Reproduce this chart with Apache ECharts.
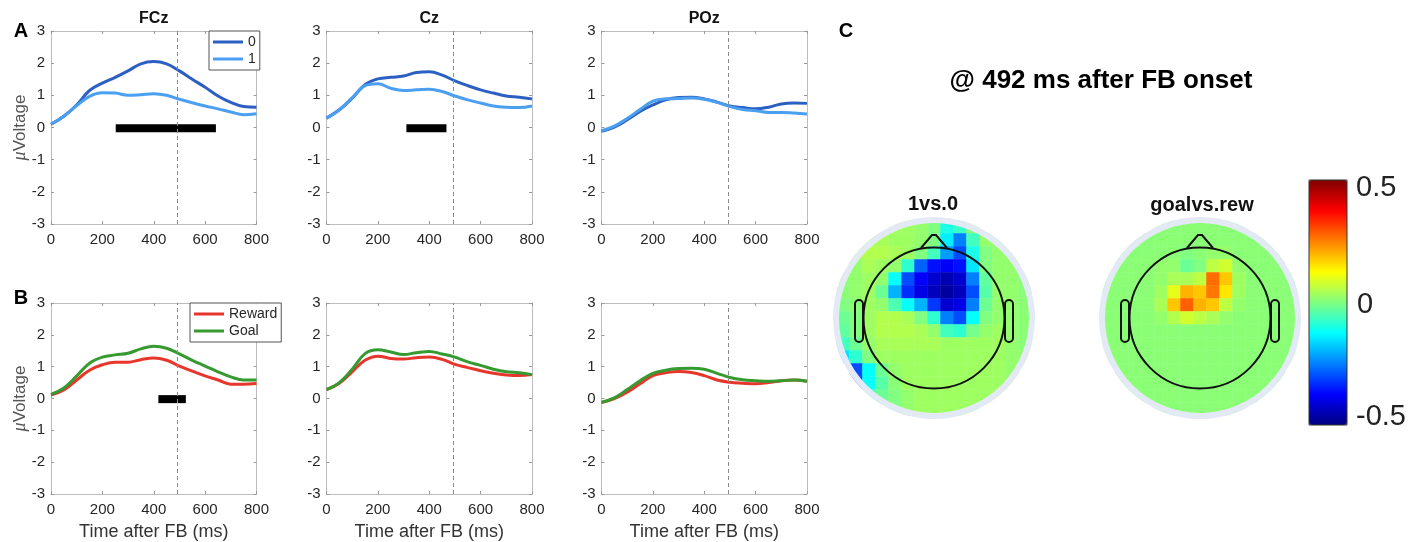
<!DOCTYPE html>
<html><head><meta charset="utf-8">
<script src="https://cdn.jsdelivr.net/npm/echarts@6/dist/echarts.min.js"></script>
<style>html,body{margin:0;padding:0;background:#fff}#c{width:1416px;height:542px}</style>
</head><body><div id="c"></div>
<script>
// ---------- data ----------
const times = [0,50,100,150,200,250,300,350,400,450,500,550,600,650,700,750,800];
const chanNames = ['FCz','Cz','POz'];
const condA = ['0','1'];
const condB = ['Reward','Goal'];
// Panel A (condition 0 / 1)
const a0_FCz = [0.10,0.35,0.70,1.15,1.38,1.56,1.76,1.98,2.05,1.98,1.76,1.50,1.25,0.98,0.78,0.65,0.63];
const a1_FCz = [0.10,0.35,0.68,0.97,1.08,1.07,1.00,1.02,1.05,1.00,0.88,0.77,0.67,0.58,0.48,0.40,0.43];
const a0_Cz  = [0.29,0.55,0.91,1.33,1.51,1.56,1.60,1.71,1.73,1.63,1.45,1.30,1.17,1.07,0.98,0.94,0.89];
const a1_Cz  = [0.29,0.55,0.92,1.30,1.36,1.22,1.15,1.17,1.19,1.12,0.98,0.86,0.76,0.67,0.63,0.62,0.67];
const a0_POz = [-0.12,0.01,0.24,0.50,0.70,0.86,0.93,0.94,0.89,0.79,0.67,0.62,0.58,0.63,0.73,0.76,0.75];
const a1_POz = [-0.10,0.04,0.28,0.56,0.82,0.89,0.90,0.92,0.88,0.78,0.65,0.56,0.52,0.47,0.47,0.45,0.42];
// Panel B (Reward / Goal)
const bR_FCz = [0.11,0.27,0.58,0.89,1.06,1.14,1.14,1.22,1.27,1.20,1.02,0.86,0.71,0.58,0.45,0.45,0.47];
const bG_FCz = [0.13,0.33,0.71,1.11,1.30,1.37,1.42,1.56,1.64,1.58,1.40,1.20,1.02,0.84,0.68,0.58,0.58];
const bR_Cz  = [0.28,0.48,0.84,1.20,1.33,1.26,1.24,1.28,1.30,1.23,1.07,0.97,0.87,0.79,0.74,0.72,0.75];
const bG_Cz  = [0.28,0.50,0.92,1.41,1.53,1.46,1.38,1.44,1.48,1.40,1.30,1.15,1.04,0.92,0.84,0.81,0.75];
const bR_POz = [-0.13,0.00,0.20,0.46,0.72,0.81,0.85,0.82,0.72,0.58,0.51,0.48,0.46,0.50,0.56,0.58,0.54];
const bG_POz = [-0.12,0.02,0.28,0.56,0.79,0.89,0.94,0.95,0.92,0.79,0.66,0.59,0.56,0.54,0.56,0.58,0.54];
// significance bars [start, end] in ms
const sigA = [[252,642],[311,467],null];
const sigB = [[418,525],null,null];
const sigLevel = -0.02;
const fbMarker = 492;
const xMin = 0, xMax = 800, xStep = 200;
const yMin = -3, yMax = 3, yStep = 1;
// topographies (rows front->back, columns left->right), null = outside scalp disk
const _ = null;
const topo1 = [
 [_,_,_,_,0.03,0.03,0.02,0.00,-0.10,-0.07,0.00,_,_,_,_],
 [_,_,0.04,0.04,0.03,0.03,0.02,0.00,-0.14,-0.25,-0.06,0.02,0.02,_,_],
 [_,0.03,0.05,0.05,0.04,0.03,0.00,-0.06,-0.22,-0.30,-0.10,0.00,0.02,0.02,_],
 [_,0.02,0.04,0.03,0.02,-0.08,-0.28,-0.36,-0.38,-0.36,-0.15,0.00,0.02,0.02,_],
 [0.01,0.02,0.03,0.02,-0.12,-0.30,-0.38,-0.42,-0.45,-0.42,-0.25,-0.03,0.02,0.02,0.01],
 [0.01,0.02,0.03,-0.02,-0.20,-0.33,-0.40,-0.44,-0.47,-0.44,-0.30,-0.04,0.02,0.02,0.01],
 [0.00,0.01,0.03,0.02,-0.05,-0.12,-0.20,-0.32,-0.42,-0.40,-0.25,-0.02,0.02,0.02,0.01],
 [-0.02,0.00,0.03,0.05,0.05,0.04,0.00,-0.08,-0.25,-0.30,-0.12,0.00,0.02,0.02,0.01],
 [-0.03,0.00,0.03,0.05,0.05,0.05,0.04,0.02,-0.06,-0.08,-0.01,0.02,0.03,0.02,0.01],
 [-0.06,-0.02,0.02,0.04,0.04,0.04,0.04,0.04,0.03,0.03,0.03,0.03,0.03,0.02,0.01],
 [-0.15,-0.08,0.00,0.03,0.03,0.03,0.03,0.03,0.03,0.03,0.03,0.03,0.03,0.02,0.02],
 [_,-0.30,-0.12,-0.02,0.02,0.03,0.03,0.03,0.03,0.03,0.03,0.03,0.03,0.02,_],
 [_,-0.30,-0.12,-0.04,0.01,0.03,0.03,0.03,0.03,0.03,0.03,0.03,0.03,0.02,_],
 [_,_,-0.06,-0.02,0.00,0.02,0.03,0.03,0.03,0.03,0.03,0.03,0.03,_,_],
 [_,_,_,_,0.00,0.02,0.03,0.03,0.03,0.03,0.03,_,_,_,_]
];
const topo2 = [
 [_,_,_,_,0.01,0.01,0.01,0.01,0.01,0.01,0.01,_,_,_,_],
 [_,_,0.01,0.01,0.01,0.01,0.01,0.01,0.01,0.01,0.01,0.01,0.01,_,_],
 [_,0.01,0.01,0.01,0.01,0.01,0.00,0.01,0.02,0.02,0.01,0.01,0.01,0.01,_],
 [_,0.01,0.01,0.01,0.02,0.02,-0.02,0.00,0.06,0.08,0.02,0.01,0.01,0.01,_],
 [0.01,0.01,0.01,0.01,0.02,0.04,0.04,0.06,0.27,0.18,0.03,0.01,0.01,0.01,0.01],
 [0.01,0.01,0.01,0.01,0.03,0.10,0.20,0.18,0.26,0.15,0.03,0.01,0.01,0.01,0.01],
 [0.01,0.01,0.01,0.01,0.04,0.18,0.28,0.20,0.18,0.06,0.02,0.01,0.01,0.01,0.01],
 [0.01,0.01,0.01,0.01,0.02,0.05,0.08,0.06,0.04,0.02,0.01,0.01,0.01,0.01,0.01],
 [0.01,0.01,0.01,0.01,0.01,0.01,0.01,0.01,0.01,0.01,0.01,0.01,0.01,0.01,0.01],
 [0.01,0.01,0.01,0.01,0.01,0.01,0.01,0.01,0.01,0.01,0.01,0.01,0.01,0.01,0.01],
 [0.01,0.01,0.01,0.01,0.01,0.01,0.01,0.01,0.01,0.01,0.01,0.01,0.01,0.01,0.01],
 [_,0.01,0.01,0.01,0.01,0.01,0.01,0.01,0.01,0.01,0.01,0.01,0.01,0.01,_],
 [_,0.01,0.01,0.01,0.01,0.01,0.01,0.01,0.01,0.01,0.01,0.01,0.01,0.01,_],
 [_,_,0.01,0.01,0.01,0.01,0.01,0.01,0.01,0.01,0.01,0.01,0.01,_,_],
 [_,_,_,_,0.01,0.01,0.01,0.01,0.01,0.01,0.01,_,_,_,_]
];
const topoTitles = ['1vs.0','goalvs.rew'];
const cbMin = -0.5, cbMax = 0.5;
const cbLabels = ['0.5','0','-0.5'];
const mainTitle = '@ 492 ms after FB onset';

// ---------- layout / style ----------
const FONT = '"Liberation Sans", Arial, Helvetica, sans-serif';
const colLeft = [51, 326.5, 601.5];
const rowTop = [31, 303];
const plotW = 205.5;
const plotH = [193, 194];
const colorsA = ['#2b5fc1', '#4a9ff0'];
const colorsB = ['#e7362c', '#369a30'];
const panelSeries = [
  [[a0_FCz,a1_FCz],[a0_Cz,a1_Cz],[a0_POz,a1_POz]],
  [[bR_FCz,bG_FCz],[bR_Cz,bG_Cz],[bR_POz,bG_POz]]
];
const panelNames = [condA, condB];
const panelColors = [colorsA, colorsB];
const panelSig = [sigA, sigB];

const grids = [], xAxes = [], yAxes = [], series = [];
const axisLineStyle = {show:true, onZero:false, lineStyle:{color:'#bdbdbd', width:1}};
const axisTickStyle = {show:true, inside:true, length:3, lineStyle:{color:'#9a9a9a'}};

for (let r = 0; r < 2; r++) {
  for (let c = 0; c < 3; c++) {
    const g = r*3 + c;
    grids.push({left: colLeft[c], top: rowTop[r], width: plotW, height: plotH[r]});
    const xb = {type:'value', gridIndex:g, position:'bottom', min:xMin, max:xMax, interval:xStep,
      axisLine:axisLineStyle, axisTick:axisTickStyle, splitLine:{show:false},
      axisLabel:{show:true, color:'#262626', fontSize:15, margin:8, fontFamily:FONT}};
    if (r === 1) {
      xb.name = 'Time after FB (ms)'; xb.nameLocation = 'middle'; xb.nameGap = 29; xb.nameMoveOverlap = false;
      xb.nameTextStyle = {fontSize:18, color:'#333', fontFamily:FONT};
    }
    xAxes.push(xb);
    xAxes.push({type:'value', gridIndex:g, position:'top', min:xMin, max:xMax, interval:xStep,
      axisLine:axisLineStyle, axisTick:axisTickStyle, splitLine:{show:false}, axisLabel:{show:false}});
    const yl = {type:'value', gridIndex:g, position:'left', min:yMin, max:yMax, interval:yStep,
      axisLine:axisLineStyle, axisTick:axisTickStyle, splitLine:{show:false},
      axisLabel:{show:true, color:'#262626', fontSize:15, margin:6, fontFamily:FONT}};
    if (c === 0) {
      yl.name = '{mu|\u03bc}Voltage'; yl.nameLocation = 'middle'; yl.nameGap = 22; yl.nameRotate = 90;
      yl.nameMoveOverlap = false;
      yl.nameTextStyle = {fontSize:17, color:'#555', fontFamily:FONT,
        rich:{mu:{fontStyle:'italic', fontSize:18, color:'#555', fontFamily:'"Liberation Serif", serif'}}};
    }
    yAxes.push(yl);
    yAxes.push({type:'value', gridIndex:g, position:'right', min:yMin, max:yMax, interval:yStep,
      axisLine:axisLineStyle, axisTick:axisTickStyle, splitLine:{show:false}, axisLabel:{show:false}});

    const sig = panelSig[r][c];
    if (sig) {
      series.push({type:'line', name:'sig', xAxisIndex:2*g, yAxisIndex:2*g, data:[[sig[0],sigLevel],[sig[1],sigLevel]],
        symbol:'none', lineStyle:{color:'#000', width:8, cap:'butt'}, silent:true, z:2});
    }
    for (let s = 0; s < 2; s++) {
      const vals = panelSeries[r][c][s];
      const ser = {type:'line', name: panelNames[r][s], xAxisIndex:2*g, yAxisIndex:2*g,
        data: times.map((t,i)=>[t, vals[i]]), smooth:0.4, symbol:'none', showSymbol:false,
        lineStyle:{color: panelColors[r][s], width:3}, itemStyle:{color: panelColors[r][s]}, z:3};
      if (s === 0) {
        ser.markLine = {silent:true, symbol:['none','none'], label:{show:false},
          lineStyle:{type:[4,3], color:'#8c8c8c', width:1}, data:[{xAxis: fbMarker}], animation:false};
      }
      series.push(ser);
    }
  }
}

// topography heatmaps
const topoCenters = [[934,318],[1200,318]];
const topoSize = 195;
const topoData = [topo1, topo2];
const hmIdx = [];
for (let m = 0; m < 2; m++) {
  const g = grids.length;
  grids.push({left: topoCenters[m][0]-topoSize/2, top: topoCenters[m][1]-topoSize/2, width: topoSize, height: topoSize});
  const cats = topoData[m][0].map((v,i)=>String(i));
  xAxes.push({type:'category', gridIndex:g, data:cats, show:false});
  yAxes.push({type:'category', gridIndex:g, data:topoData[m].map((v,i)=>String(i)), show:false, inverse:true});
  const d = [];
  topoData[m].forEach((row,k)=>row.forEach((v,j)=>{ if (v !== null) d.push([j,k,v]); }));
  hmIdx.push(series.length);
  series.push({type:'heatmap', xAxisIndex:xAxes.length-1, yAxisIndex:yAxes.length-1, data:d, silent:true,
    itemStyle:{borderWidth:0}, z:1, progressive:0});
}

const jet = ['#000080','#0000ff','#0080ff','#00ffff','#80ff80','#ffff00','#ff8000','#ff0000','#800000'];

// graphic decorations
const gfx = [];
function txt(text, x, y, font, fill, align) {
  gfx.push({type:'text', z:50, style:{text, x, y, font, fill: fill||'#111',
    textAlign: align||'center', align: align||'center', textVerticalAlign:'middle', verticalAlign:'middle'}});
}
topoCenters.forEach(([cx,cy])=>{
  gfx.push({type:'circle', z:6, silent:true, shape:{cx, cy, r:107.5}, style:{fill:'none', stroke:'#fff', lineWidth:13}});
  gfx.push({type:'circle', z:7, silent:true, shape:{cx, cy, r:98}, style:{fill:'none', stroke:'#e4e9f6', lineWidth:6}});
  gfx.push({type:'circle', z:8, silent:true, shape:{cx, cy, r:70.5}, style:{fill:'none', stroke:'#111', lineWidth:2}});
  gfx.push({type:'polyline', z:8, silent:true, shape:{points:[[cx-13,cy-70],[cx-2,cy-83],[cx+2,cy-83],[cx+13,cy-70]]}, style:{fill:'none', stroke:'#111', lineWidth:2}});
  gfx.push({type:'rect', z:8, silent:true, shape:{x:cx-79, y:cy-18, width:8, height:42, r:4}, style:{fill:'none', stroke:'#111', lineWidth:2}});
  gfx.push({type:'rect', z:8, silent:true, shape:{x:cx+71, y:cy-18, width:8, height:42, r:4}, style:{fill:'none', stroke:'#111', lineWidth:2}});
});
// panel titles
chanNames.forEach((n,c)=> txt(n, colLeft[c]+plotW/2, 19, 'bold 16px '+FONT, '#111'));
txt('A', 21, 31, 'bold 20px '+FONT, '#000');
txt('B', 21, 298, 'bold 20px '+FONT, '#000');
txt('C', 846, 31, 'bold 20px '+FONT, '#000');
txt(mainTitle, 1101, 81, 'bold 26px '+FONT, '#000');
txt(topoTitles[0], 933, 204, 'bold 20px '+FONT, '#111');
txt(topoTitles[1], 1202, 205, 'bold 20px '+FONT, '#111');
// colorbar
const cb = {left:1309, top:180, w:38, h:245};
gfx.push({type:'rect', z:50, silent:true, shape:{x:cb.left, y:cb.top, width:cb.w, height:cb.h}, style:{fill:'none', stroke:'#333', lineWidth:1}});
txt(cbLabels[0], 1356, 188, '29px '+FONT, '#222', 'left');
txt(cbLabels[1], 1357, 305, '29px '+FONT, '#222', 'left');
txt(cbLabels[2], 1356, 417, '29px '+FONT, '#222', 'left');

const legendBase = {orient:'vertical', itemWidth:30, itemHeight:3, itemGap:3, padding:[4,4,4,4], icon:'rect',
  borderColor:'#555', borderWidth:1, backgroundColor:'#fff', borderRadius:0, selectedMode:false,
  textStyle:{fontSize:14, color:'#262626', fontFamily:FONT, lineHeight:14}};
const option = {
  animation:false,
  backgroundColor:'#fff',
  grid: grids, xAxis: xAxes, yAxis: yAxes, series,
  legend: [
    Object.assign({}, legendBase, {data:condA, left:209, top:31}),
    Object.assign({}, legendBase, {data:condB, left:190, top:303})
  ],
  visualMap: {type:'continuous', min:cbMin, max:cbMax, seriesIndex:hmIdx, calculable:false, orient:'vertical',
    left:cb.left, top:cb.top, itemWidth:cb.w, itemHeight:cb.h, padding:0, inRange:{color:jet}, z:40},
  graphic: gfx
};
const chart = echarts.init(document.getElementById('c'), null, {renderer:'canvas'});
chart.setOption(option);
</script></body></html>
